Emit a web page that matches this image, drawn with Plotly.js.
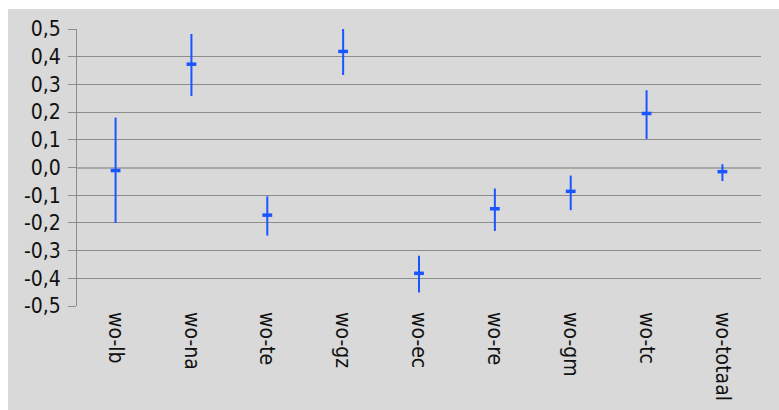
<!DOCTYPE html>
<html>
<head>
<meta charset="utf-8">
<script src="https://cdn.plot.ly/plotly-3.0.1.min.js"></script>
<style>
  html, body { margin: 0; padding: 0; background: #ffffff; }
  #chart { position: absolute; left: 8px; top: 9px; width: 771px; height: 401px; }
</style>
</head>
<body>
<div id="chart"></div>
<script>
const categories = ["wo-lb", "wo-na", "wo-te", "wo-gz", "wo-ec", "wo-re", "wo-gm", "wo-tc", "wo-totaal"];
const estimates  = [-0.011, 0.373, -0.172, 0.419, -0.382, -0.149, -0.086, 0.195, -0.015];
const upper      = [0.180, 0.482, -0.104, 0.504, -0.319, -0.076, -0.029, 0.279, 0.012];
const lower      = [-0.200, 0.258, -0.246, 0.334, -0.451, -0.229, -0.154, 0.103, -0.049];
const yTickVals  = [-0.5, -0.4, -0.3, -0.2, -0.1, 0, 0.1, 0.2, 0.3, 0.4, 0.5];
const yTickText  = ["-0,5", "-0,4", "-0,3", "-0,2", "-0,1", "0,0", "0,1", "0,2", "0,3", "0,4", "0,5"];

const plus  = upper.map((u, i) => u - estimates[i]);
const minus = lower.map((l, i) => estimates[i] - l);

const fontFam = "'Liberation Sans Narrow', 'DejaVu Sans Condensed', Roboto, sans-serif";

const trace = {
  type: "scatter",
  mode: "markers",
  x: categories,
  y: estimates,
  marker: { symbol: "line-ew", size: 7, color: "#1a55ff", line: { color: "#1a55ff", width: 3.5 } },
  error_y: {
    type: "data", symmetric: false, array: plus, arrayminus: minus,
    color: "#1a55ff", thickness: 2, width: 0
  },
  hoverinfo: "x+y"
};

const layout = {
  width: 771, height: 401,
  margin: { l: 69, r: 18, t: 20, b: 104 },
  paper_bgcolor: "#d9d9d9",
  plot_bgcolor: "#d9d9d9",
  showlegend: false,
  font: { family: fontFam, size: 21, color: "#111111" },
  xaxis: {
    type: "category",
    tickangle: 90,
    showgrid: false,
    zeroline: false,
    showline: false,
    ticks: "",
    tickfont: { family: fontFam, size: 21, color: "#111111" },
    ticklabelstandoff: 5
  },
  yaxis: {
    range: [-0.5, 0.5],
    tickvals: yTickVals,
    ticktext: yTickText,
    showgrid: true,
    gridcolor: "#8c8c8c",
    gridwidth: 1,
    zeroline: true,
    zerolinecolor: "#a8a8a8",
    zerolinewidth: 2,
    showline: true,
    linecolor: "#8c8c8c",
    linewidth: 1,
    ticks: "outside",
    ticklen: 8,
    tickcolor: "#8c8c8c",
    tickfont: { family: fontFam, size: 21, color: "#111111" },
    ticklabelstandoff: 3
  }
};

Plotly.newPlot("chart", [trace], layout, { displayModeBar: false, staticPlot: true });
</script>
</body>
</html>
